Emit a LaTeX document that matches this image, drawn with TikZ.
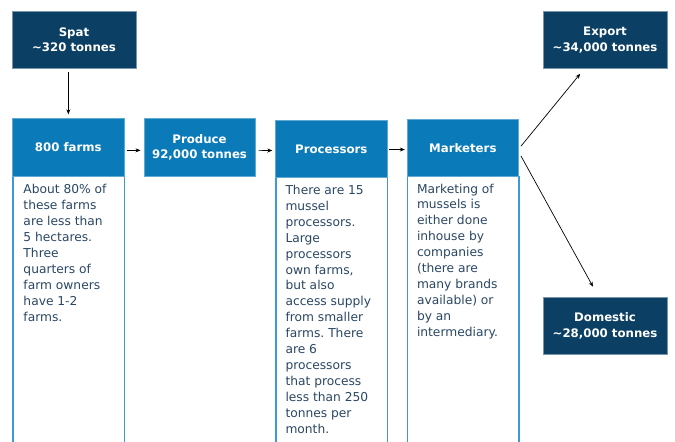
\documentclass[tikz,border=0pt]{standalone}
\usepackage{fontspec}
\setmainfont{DejaVu Sans}
\usetikzlibrary{arrows.meta,calc}
\definecolor{navy}{HTML}{0B3F63}
\definecolor{midblue}{HTML}{0A7BB8}
\definecolor{edgeblue}{HTML}{3D9AD8}
\definecolor{bodytext}{HTML}{2A4763}
\frenchspacing
\begin{document}
\begin{tikzpicture}[x=1bp,y=-1bp,
  boxfont/.style={font=\bfseries\fontsize{11.8}{16}\selectfont},
  darkbox/.style={boxfont, fill=navy, draw=navy!55!white, line width=0.6bp,
    text=white, align=center, minimum width=124bp, minimum height=57.5bp,
    anchor=north west, inner sep=0pt},
  headbox/.style={boxfont, fill=midblue, draw=midblue!65!white, line width=0.6bp,
    text=white, align=center, minimum width=111.5bp, minimum height=57.5bp,
    anchor=north west, inner sep=0pt},
  bodybox/.style={draw=edgeblue, line width=1.2bp, fill=white,
    minimum width=111.5bp, minimum height=290bp, anchor=north west, inner sep=0pt},
  bodytxt/.style={font=\fontsize{12.3}{16}\selectfont, text=bodytext,
    align=left, anchor=north west, inner sep=0pt},
  flow/.style={-{Stealth[length=5bp,width=4bp]}, line width=0.7bp, black}
]
\useasboundingbox (0,0) rectangle (675,442);

% top and side boxes
\node[darkbox] (spat) at (11.7,10.7) {Spat\\\textasciitilde320 tonnes};
\node[darkbox] (export) at (542.7,10.7) {Export\\\textasciitilde34,000 tonnes};
\node[darkbox] (dom) at (542.7,296.7) {Domestic\\\textasciitilde28,000 tonnes};

% description columns
\node[bodybox] (farmsbody) at (12.3,175.7) {};
\node[bodybox] (procbody) at (275.3,177.3) {};
\node[bodybox] (mktbody) at (406.8,176) {};

% column headers
\node[headbox] (farms) at (12.3,118.3) {800 farms};
\node[headbox] (produce) at (143.5,118.3) {Produce\\92,000 tonnes};
\node[headbox] (proc) at (275.3,120) {Processors};
\node[headbox] (mkt) at (406.8,119) {Marketers};

% column texts
\node[bodytxt] (farmstxt) at ($(farmsbody.north west)+(11,8.5)$)
  {About 80\% of\\these farms\\are less than\\5 hectares.\\Three\\quarters of\\farm owners\\have 1-2\\farms.};
\node[bodytxt] (proctxt) at ($(procbody.north west)+(10,7.5)$)
  {There are 15\\mussel\\processors.\\Large\\processors\\own farms,\\but also\\access supply\\from smaller\\farms. There\\are 6\\processors\\that process\\less than 250\\tonnes per\\month.};
\node[bodytxt] (mkttxt) at ($(mktbody.north west)+(10,7.5)$)
  {Marketing of\\mussels is\\either done\\inhouse by\\companies\\(there are\\many brands\\available) or\\by an\\intermediary.};

% flow arrows
\draw[flow] (farms.north |- spat.south) ++(0,3) -- ($(farms.north)+(0,-4)$);
\draw[flow] ($(farms.east)+(3,3)$) -- ($(produce.west)+(-3,3)$);
\draw[flow] ($(produce.east)+(3,3)$) -- ($(proc.west)+(-3,1.5)$);
\draw[flow] ($(proc.east)+(2,0.5)$) -- ($(mkt.west)+(-2,1.5)$);
\draw[flow] ($(mkt.east)+(2,-1.8)$) -- ($(export.south west)+(37.5,5)$);
\draw[flow] ($(mkt.east)+(2,7.8)$) -- ($(dom.north west)+(50.3,-10)$);
\end{tikzpicture}
\end{document}
